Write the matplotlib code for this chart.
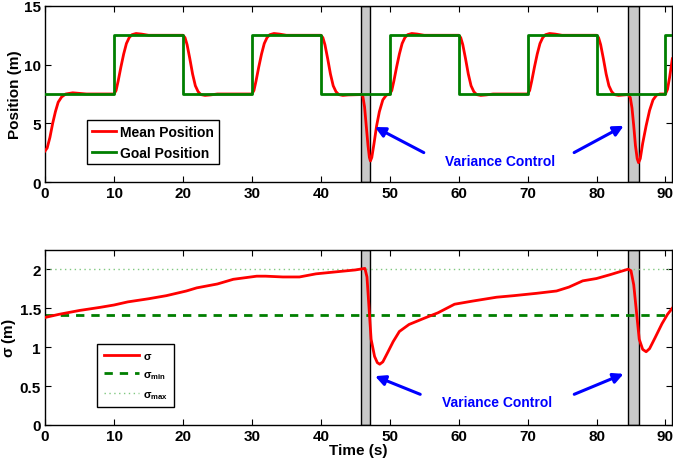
import matplotlib
matplotlib.use("Agg")
import matplotlib.pyplot as plt
import numpy as np

plt.rcParams["font.family"] = ["Liberation Sans", "DejaVu Sans"]
plt.rcParams["font.weight"] = "bold"
plt.rcParams["mathtext.fontset"] = "custom"
plt.rcParams["mathtext.rm"] = "Liberation Sans"
plt.rcParams["mathtext.it"] = "Liberation Sans"
plt.rcParams["mathtext.bf"] = "Liberation Sans:bold"

# goal position: switch times and levels
goal_t = [0, 10, 20, 30, 40, 50, 60, 70, 80, 90, 91]
goal_y = [7.5, 12.5, 7.5, 12.5, 7.5, 12.5, 7.5, 12.5, 7.5, 12.5, 12.5]

# mean position of the group
mean_t = [0, 0.3, 0.7, 1.1, 1.5, 1.9, 2.4, 3, 4, 5, 6, 10,
          10.3, 10.6, 11, 11.4, 11.8, 12.2, 12.6, 13.2, 14, 15, 20,
          20.3, 20.6, 21, 21.4, 21.8, 22.2, 22.6, 23.2, 24, 25, 30,
          30.3, 30.6, 31, 31.4, 31.8, 32.2, 32.6, 33.2, 34, 35, 40,
          40.3, 40.6, 41, 41.4, 41.8, 42.2, 42.6, 43.2, 44, 45.9,
          46.1, 46.35, 46.6, 46.85, 47.05, 47.2, 47.4, 47.7, 48.1, 48.5, 49, 49.5, 50,
          50.3, 50.6, 51, 51.4, 51.8, 52.2, 52.6, 53.2, 54, 55, 60,
          60.3, 60.6, 61, 61.4, 61.8, 62.2, 62.6, 63.2, 64, 65, 70,
          70.3, 70.6, 71, 71.4, 71.8, 72.2, 72.6, 73.2, 74, 75, 80,
          80.3, 80.6, 81, 81.4, 81.8, 82.2, 82.6, 83.2, 84, 84.6,
          84.9, 85.15, 85.4, 85.65, 85.9, 86.1, 86.35, 86.7, 87.2, 87.7, 88.2, 88.7, 89.2, 90,
          90.3, 90.6, 91]
mean_y = [2.65, 2.9, 3.8, 5.0, 6.0, 6.8, 7.25, 7.5, 7.6, 7.55, 7.5, 7.5,
          7.8, 8.6, 9.8, 10.9, 11.8, 12.3, 12.55, 12.65, 12.6, 12.5, 12.5,
          12.3, 11.7, 10.5, 9.2, 8.2, 7.7, 7.45, 7.38, 7.42, 7.5, 7.5,
          7.8, 8.6, 9.8, 10.9, 11.8, 12.3, 12.55, 12.65, 12.6, 12.5, 12.5,
          12.3, 11.7, 10.5, 9.2, 8.2, 7.7, 7.45, 7.38, 7.42, 7.45,
          7.3, 6.4, 4.8, 3.1, 2.1, 1.8, 2.1, 3.2, 4.8, 6.0, 7.0, 7.4, 7.5,
          7.8, 8.6, 9.8, 10.9, 11.8, 12.3, 12.55, 12.65, 12.6, 12.5, 12.5,
          12.3, 11.7, 10.5, 9.2, 8.2, 7.7, 7.45, 7.38, 7.42, 7.5, 7.5,
          7.8, 8.6, 9.8, 10.9, 11.8, 12.3, 12.55, 12.65, 12.6, 12.5, 12.5,
          12.3, 11.7, 10.5, 9.2, 8.2, 7.7, 7.45, 7.38, 7.42, 7.45,
          7.2, 6.3, 4.8, 3.1, 2.0, 1.65, 2.0, 3.3, 4.8, 6.1, 7.0, 7.4, 7.5, 7.5,
          7.9, 8.9, 10.5]

# spread of the group
sigma_t = [0, 2, 5, 8, 10, 12, 15, 17.6, 20.5, 22, 25, 27.3, 30.7, 32, 34.5,
           36.9, 39.3, 42.7, 45, 46.4, 46.7, 47.0, 47.3, 47.8, 48.2, 48.55, 49,
           49.7, 50.5, 51.4, 52.8, 55, 57, 59.4, 62, 65.5, 68, 71.3, 74.2, 76,
           78, 80, 82, 84.6, 85.0, 85.4, 85.8, 86.2, 86.7, 87.2, 87.7, 88.5,
           89.5, 90.3, 91]
sigma_y = [1.38, 1.42, 1.47, 1.51, 1.54, 1.58, 1.62, 1.66, 1.72, 1.76, 1.81,
           1.87, 1.91, 1.91, 1.90, 1.90, 1.94, 1.97, 1.99, 2.01, 1.9, 1.5, 1.1,
           0.88, 0.80, 0.78, 0.81, 0.93, 1.07, 1.2, 1.29, 1.37, 1.44, 1.55,
           1.59, 1.64, 1.66, 1.69, 1.72, 1.77, 1.85, 1.88, 1.93, 2.0, 1.98,
           1.8, 1.45, 1.1, 0.97, 0.94, 0.98, 1.12, 1.3, 1.42, 1.5]

sigma_min = 1.414
sigma_max = 2.0

# variance control windows
vc_windows = [(45.8, 47.2), (84.6, 86.1)]

fig = plt.figure(figsize=(6.73, 4.60), dpi=100)
ax1 = fig.add_axes([0.067, 0.602, 0.932, 0.383])
ax2 = fig.add_axes([0.067, 0.074, 0.932, 0.381])

for ax in (ax1, ax2):
    for lo, hi in vc_windows:
        ax.axvspan(lo, hi, facecolor="#c8c8c8", edgecolor="black", linewidth=1.0, zorder=1)
    ax.set_xlim(0, 91)
    ax.set_xticks(range(0, 91, 10))
    ax.tick_params(direction="in", top=True, right=True, labelsize=11, length=4, width=0.8, pad=3)
    for sp in ax.spines.values():
        sp.set_linewidth(1.0)

arrow_style = dict(arrowstyle="-|>,head_length=0.6,head_width=0.3", color="blue", lw=2.2)

# top: position tracking
ax1.plot(mean_t, mean_y, color="red", lw=2, label="Mean Position", zorder=3)
ax1.plot(goal_t, goal_y, color="#007f00", lw=2, drawstyle="steps-post", label="Goal Position", zorder=4)
ax1.set_ylim(0, 15)
ax1.set_yticks([0, 5, 10, 15])
ax1.set_ylabel("Position (m)", fontsize=11, fontweight="bold")
ax1.yaxis.set_label_coords(-0.037, 0.5)
leg1 = ax1.legend(loc="lower left", bbox_to_anchor=(0.067, 0.1), fontsize=10, fancybox=False,
                  edgecolor="black", framealpha=1, handlelength=1.75, borderpad=0.35,
                  labelspacing=0.45, handletextpad=0.3, borderaxespad=0)
leg1.get_frame().set_linewidth(1.0)

ax1.text(66, 1.8, "Variance Control", color="blue", fontsize=10, fontweight="bold",
         ha="center", va="center")
ax1.annotate("", xy=(47.5, 4.8), xytext=(55.3, 2.4), arrowprops=arrow_style)
ax1.annotate("", xy=(84.3, 4.9), xytext=(76.4, 2.4), arrowprops=arrow_style)

# bottom: standard deviation
ax2.plot(sigma_t, sigma_y, color="red", lw=2, label=r"$\sigma$", zorder=3)
ax2.axhline(sigma_min, color="#007f00", lw=2, ls=(0, (3, 2.5)), label=r"$\sigma_{\mathbf{min}}$", zorder=2)
ax2.axhline(sigma_max, color="#80c880", lw=1, ls=(0, (1, 2.5)), label=r"$\sigma_{\mathbf{max}}$", zorder=2)
ax2.set_ylim(0, 2.25)
ax2.set_yticks([0, 0.5, 1, 1.5, 2])
ax2.set_yticklabels(["0", "0.5", "1", "1.5", "2"])
ax2.set_ylabel(r"$\sigma$ (m)", fontsize=11, fontweight="bold")
ax2.yaxis.set_label_coords(-0.043, 0.5)
ax2.set_xlabel("Time (s)", fontsize=11, fontweight="bold", labelpad=0)
leg2 = ax2.legend(loc="lower left", bbox_to_anchor=(0.083, 0.1), fontsize=8, fancybox=False,
                  edgecolor="black", framealpha=1, handlelength=3.2, borderpad=0.6,
                  labelspacing=0.75, handletextpad=0.3, borderaxespad=0)
leg2.get_frame().set_linewidth(1.0)

ax2.text(65.5, 0.29, "Variance Control", color="blue", fontsize=10, fontweight="bold",
         ha="center", va="center")
ax2.annotate("", xy=(47.5, 0.64), xytext=(54.8, 0.38), arrowprops=arrow_style)
ax2.annotate("", xy=(84.3, 0.67), xytext=(76.4, 0.38), arrowprops=arrow_style)

fig.savefig("out.png", dpi=100)
